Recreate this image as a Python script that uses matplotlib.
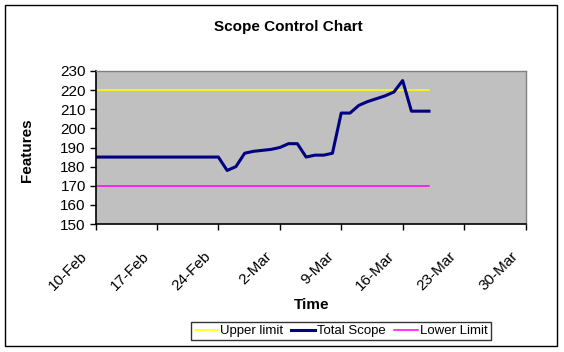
import matplotlib
matplotlib.use("Agg")
import matplotlib.pyplot as plt
import matplotlib.transforms as mtransforms
from matplotlib.patches import Rectangle
import pandas as pd

plt.rcParams["font.family"] = ["Liberation Sans", "DejaVu Sans"]

# series
scope_dates = [
    "2008-02-10", "2008-02-24", "2008-02-25", "2008-02-26", "2008-02-27",
    "2008-02-28", "2008-02-29", "2008-03-01", "2008-03-02", "2008-03-03",
    "2008-03-04", "2008-03-05", "2008-03-06", "2008-03-07", "2008-03-08",
    "2008-03-09", "2008-03-10", "2008-03-11", "2008-03-12", "2008-03-13",
    "2008-03-14", "2008-03-15", "2008-03-16", "2008-03-17", "2008-03-18",
    "2008-03-19",
]
total_scope = [
    185, 185, 178, 180, 187,
    188, 188.5, 189, 190, 192,
    192, 185, 186, 186, 187,
    208, 208, 212, 214, 215.5,
    217, 219, 225, 209, 209,
    209,
]
limit_dates = ["2008-02-10", "2008-03-19"]
upper_limit = [220, 220]
lower_limit = [170, 170]

tick_dates = pd.date_range("2008-02-10", "2008-03-30", freq="7D")
tick_labels = [f"{d.day}-{d.strftime('%b')}" for d in tick_dates]
y_ticks = [150, 160, 170, 180, 190, 200, 210, 220, 230]

fig = plt.figure(figsize=(5.64, 3.52), dpi=100)
fig.patch.set_facecolor("white")
fig.add_artist(Rectangle((5 / 564, 1 - 346 / 352), 552 / 564, 341 / 352,
                         transform=fig.transFigure, fill=False,
                         edgecolor="black", linewidth=1.0))

ax = fig.add_axes([95.5 / 564, 1 - 224 / 352, 430 / 564, 153 / 352])
ax.set_facecolor("#C0C0C0")

sd = pd.to_datetime(scope_dates)
ld = pd.to_datetime(limit_dates)
ax.plot(ld, upper_limit, color="#FFFF00", lw=1.1, label="Upper limit")
ax.plot(sd, total_scope, color="#000080", lw=2.2, label="Total Scope")
ax.plot(ld, lower_limit, color="#FF00FF", lw=1.1, label="Lower Limit")

ax.set_xlim(tick_dates[0], tick_dates[-1])
ax.set_ylim(150, 230)
ax.set_yticks(y_ticks)
ax.set_xticks(tick_dates)
ax.set_xticklabels(tick_labels, rotation=45, ha="right", fontsize=11)
ax.tick_params(axis="y", labelsize=11, length=4, width=1, direction="out", pad=3)
ax.tick_params(axis="x", length=4, width=1, direction="out", pad=14)
shift = mtransforms.ScaledTranslation(-5 / 100, 0, fig.dpi_scale_trans)
for lab in ax.get_xticklabels():
    lab.set_transform(lab.get_transform() + shift)

for side in ("left", "bottom"):
    ax.spines[side].set_color("black")
    ax.spines[side].set_linewidth(1.2)
for side in ("top", "right"):
    ax.spines[side].set_color("#808080")
    ax.spines[side].set_linewidth(1.0)

fig.text(288 / 564, 1 - 27 / 352, "Scope Control Chart", ha="center", va="center",
         fontsize=11, fontweight="bold")
fig.text(27 / 564, 1 - 150 / 352, "Features", ha="center", va="center",
         rotation=90, fontsize=11, fontweight="bold")
fig.text(312 / 564, 1 - 305 / 352, "Time", ha="center", va="center",
         fontsize=11, fontweight="bold")

leg = fig.legend(loc="center", bbox_to_anchor=(341 / 564, 1 - 331 / 352),
                 ncol=3, fontsize=9.5, frameon=True, fancybox=False, shadow=False,
                 handlelength=1.8, handletextpad=0.15, columnspacing=0.6,
                 borderpad=0.25, borderaxespad=0)
leg.get_frame().set_edgecolor("black")
leg.get_frame().set_linewidth(1.0)

fig.savefig("out.png", dpi=100, facecolor="white")
